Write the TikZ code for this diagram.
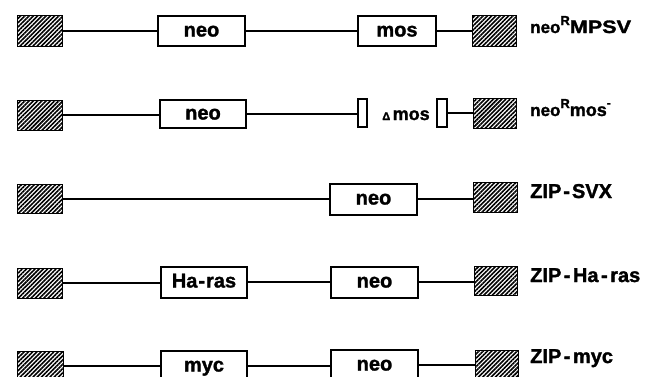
\documentclass[tikz,border=0pt]{standalone}
\usepackage{fontspec}
\setmainfont{Liberation Sans}[BoldFeatures={FakeBold=1.5}]
\usetikzlibrary{patterns.meta}
\begin{document}
\begin{tikzpicture}[x=1pt,y=-1pt,
  gene/.style={draw, line width=2pt, inner sep=0pt, minimum height=30pt,
    font=\fontsize{20}{20}\selectfont\bfseries, text height=11pt, text depth=0pt},
  bar/.style={draw, line width=1.8pt, inner sep=0pt, minimum width=9pt, minimum height=28pt},
  ltr/.style={draw, line width=0.5pt, inner sep=0pt, minimum width=45pt, minimum height=30pt,
    pattern={Lines[angle=45,distance=3pt,line width=1.6pt]}},
  link/.style={line width=2pt},
  tag/.style={anchor=base west, inner sep=0pt, font=\bfseries}]
\useasboundingbox (0,0) rectangle (660,376);
\clip (0,0) rectangle (660,376);

% neo^R MPSV
\node[ltr, minimum height=31pt] (l1) at (39.5,31) {};
\node[gene, minimum width=87pt] (neo1) at (201.5,31) {neo};
\node[gene, minimum width=78pt] (mos1) at (397,31) {mos};
\node[ltr, minimum width=44pt, minimum height=31pt] (r1) at (494,31) {};
\node[tag] (t1) at (530,33) {\fontsize{17}{17}\selectfont neo\raisebox{8pt}{\fontsize{13}{13}\selectfont R}\fontsize{18}{18}\selectfont\scalebox{1.2}[1]{MPSV}};
\draw[link] (l1.east) -- (l1.east -| neo1.west);
\draw[link] (neo1.east) -- (neo1.east -| mos1.west);
\draw[link] (mos1.east) -- (mos1.east -| r1.west);

% neo^R mos^-
\node[ltr] (l2) at (39.5,115) {};
\node[gene, minimum width=86pt, minimum height=28pt] (neo2) at (203,114) {neo};
\node[bar] (b2a) at (362.5,113) {};
\node[bar, minimum width=10pt] (b2b) at (442,113) {};
\node[anchor=base, inner sep=0pt, font=\bfseries] (dmos) at (406,120)
  {{\fontsize{11}{11}\selectfont Δ}\kern2.5pt\fontsize{18}{18}\selectfont mos};
\node[ltr, minimum width=43pt] (r2) at (494.5,113) {};
\node[tag] (t2) at (530,116) {\fontsize{17}{17}\selectfont neo\raisebox{8pt}{\fontsize{13}{13}\selectfont R}\fontsize{18}{18}\selectfont mos\raisebox{9pt}{\fontsize{12}{12}\selectfont -}};
\draw[link] (l2.east) -- (l2.east -| neo2.west);
\draw[link] (neo2.east) -- (neo2.east -| b2a.west);
\draw[link] (b2b.east) -- (b2b.east -| r2.west);

% ZIP-SVX
\node[ltr, minimum height=29pt] (l3) at (39.5,199) {};
\node[gene, minimum width=87pt, minimum height=31pt] (neo3) at (373.5,199) {neo};
\node[ltr, minimum width=44pt] (r3) at (495,197) {};
\node[tag] (t3) at (530,198) {\fontsize{20}{20}\selectfont ZIP\kern2pt-\kern2pt SVX};
\draw[link] (l3.east) -- (l3.east -| neo3.west);
\draw[link] (neo3.east) -- (neo3.east -| r3.west);

% ZIP-Ha-ras
\node[ltr] (l4) at (39.5,283) {};
\node[gene, minimum width=86pt, minimum height=31pt] (har4) at (204,282) {Ha\kern1pt-\kern1pt ras};
\node[gene, minimum width=87pt, minimum height=31pt] (neo4) at (374.5,282) {neo};
\node[ltr, minimum width=43pt, minimum height=29pt] (r4) at (495.5,281) {};
\node[tag] (t4) at (530,282) {\fontsize{20}{20}\selectfont ZIP\kern2.5pt-\kern2.5pt Ha\kern2.5pt-\kern2.5pt ras};
\draw[link] (l4.east) -- (l4.east -| har4.west);
\draw[link] (har4.east) -- (har4.east -| neo4.west);
\draw[link] (neo4.east) -- (neo4.east -| r4.west);

% ZIP-myc
\node[ltr, minimum width=46pt] (l5) at (40,366) {};
\node[gene, minimum width=86pt] (myc5) at (204,366) {myc};
\node[gene, minimum width=87pt] (neo5) at (374.5,365) {neo};
\node[ltr, minimum width=43pt] (r5) at (496.5,365) {};
\node[tag] (t5) at (530,363) {\fontsize{20}{20}\selectfont ZIP\kern2.5pt-\kern2.5pt myc};
\draw[link] (l5.east) -- (l5.east -| myc5.west);
\draw[link] (myc5.east) -- (myc5.east -| neo5.west);
\draw[link] (neo5.east) -- (neo5.east -| r5.west);
\end{tikzpicture}
\end{document}
